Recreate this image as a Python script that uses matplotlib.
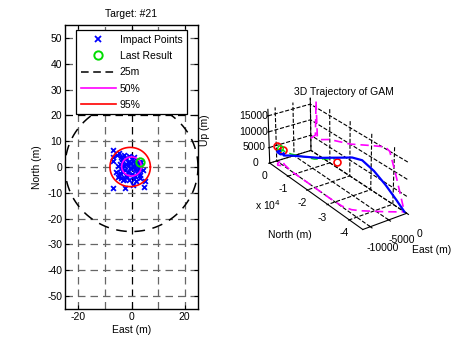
import numpy as np
import matplotlib
matplotlib.use("Agg")
import matplotlib.pyplot as plt
from matplotlib.lines import Line2D

plt.rcParams['font.family'] = ['Liberation Sans', 'DejaVu Sans']
plt.rcParams['font.size'] = 7.5
plt.rcParams['axes.unicode_minus'] = False

# ---------------- data: impact points (East, North) in metres ----------------
impact_east = [-6.8, -7.0, -7.0, -5.6, -4.6, -5.8, -5.0, -3.3, -7.0, -2.5, 0.6, 3.1, 4.9, 4.6,
               3.7, 1.8, -4.0, -3.5, -3.0, -2.0, -1.5, -1.0, 0.0, 0.5, 1.0, 1.5, 2.0, 2.5, 3.0,
               -4.5, -4.0, -3.0, -2.5, -1.5, -0.5, 0.5, 1.5, 2.5, -4.2, -3.2, -2.2, -1.2, 0.2,
               1.2, 2.2, 3.2, -3.8, -2.8, -1.8, -0.8, 0.8, 1.8, -3.5, -2.0, -0.2, 1.0, 2.8, -5.2,
               -4.8, 4.2]
impact_north = [6.6, 4.0, 2.3, 4.6, 5.3, -1.8, -3.7, -5.0, -8.2, -8.2, -6.9, -4.4, -5.6, -7.6,
                2.1, 1.4, 4.0, 3.0, 4.5, 3.5, 2.0, 4.2, 3.0, 2.2, 3.8, 1.0, 2.6, 0.4, 1.8,
                1.0, -0.5, 0.2, -1.0, 0.8, -0.3, 0.5, -0.8, -1.5, -2.5, -2.0, -3.0, -1.8, -2.6,
                -3.5, -2.2, -3.0, -4.2, -4.8, -4.0, -5.2, -4.6, -5.5, 1.8, 1.2, 1.6, 0.0, -0.5,
                0.5, -3.0, -1.0]
last_east, last_north = [3.1], [2.1]
r25, r50, r95 = 25.0, 3.7, 7.6
c50 = (0.0, 0.2)
c95 = (-0.5, 0.0)
x_ticks = [-20, 0, 20]
y_ticks = [-50, -40, -30, -20, -10, 0, 10, 20, 30, 40, 50]
grid_x = [-20, -10, 0, 10, 20]
grid_y = [-50, -40, -30, -20, -10, 0, 10, 20, 30, 40, 50]

# ---------------- data: 3D trajectory (East, North, Up) in metres ----------------
traj_north = [-1000, -1500, -2500, -3200, -2800, -2000, -3000, -8000, -15000, -22000, -28000,
              -33000, -36000, -38000, -40000, -42000, -43800, -45000]
traj_east = [-9500, -10500, -11000, -10500, -9500, -9000, -9500, -10000, -10000, -10000, -10000,
             -9800, -9000, -7500, -5500, -3500, -1500, 0]
traj_up = [3500, 3800, 4200, 3600, 3200, 3000, 2800, 5000, 7500, 10000, 12500,
           14500, 15500, 15000, 12000, 8000, 3500, 0]
ref_north = [0, -2500, -3000, -3500, -5000, -10000, -20000, -30000, -36000, -38000, -41000, -45000]
ref_up = [4000, 6000, 17000, 6000, 5500, 7500, 10000, 13500, 15500, 15000, 9000, 0]
guide_east = [-10000, -10000, -10000, -10000]
guide_north = [-1500, -8000, -20000, -30000]
guide_up = [4500, 5500, 8800, 13000]
wp_east = [-10500, -9500, -10000]
wp_north = [-1200, -2500, -31000]
wp_up = [5500, 4500, 12500]

fig = plt.figure(figsize=(4.62, 3.42), dpi=100)

# ---------------- left 2D axes ----------------
ax = fig.add_axes([65/462, 1-309/342, 133/462, 284/342])
ax.set_xlim(-25, 25)
ax.set_ylim(-55, 55)
for gx in grid_x:
    ax.plot([gx, gx], [-55, 55], color='k' if gx == 0 else '0.4', lw=0.9,
            dashes=(6, 4), zorder=1)
for gy in grid_y:
    ax.plot([-25, 25], [gy, gy], color='k' if gy == 20 else '0.4', lw=0.9,
            dashes=(6, 4), zorder=1)

t = np.linspace(0, 2*np.pi, 361)
ax.scatter(impact_east, impact_north, marker='x', s=12, color='#0000ff', lw=1.3, zorder=3)
ax.plot(last_east, last_north, 'o', mfc='none', mec='#00dd00', ms=6, mew=1.4, zorder=5)
ax.plot(r25*np.cos(t), r25*np.sin(t), color='k', lw=1.1, dashes=(7, 5), zorder=2)
ax.plot(c50[0]+r50*np.cos(t), c50[1]+r50*np.sin(t), color='#ff00ff', lw=1.2, zorder=4)
ax.plot(c95[0]+r95*np.cos(t), c95[1]+r95*np.sin(t), color='#ff0000', lw=1.2, zorder=4)

ax.set_xticks(x_ticks)
ax.set_yticks(y_ticks)
ax.tick_params(direction='in', top=True, right=True, length=3, width=0.8, labelsize=7.5, pad=2)
for s in ax.spines.values():
    s.set_linewidth(1.0)
ax.set_title('Target: #21', fontsize=7.5, pad=6)
ax.set_xlabel('East (m)', fontsize=7.5, labelpad=2)
ax.set_ylabel('North (m)', fontsize=7.5, labelpad=4)

handles = [Line2D([], [], ls='none', marker='x', color='#0000ff', ms=4, mew=1.3),
           Line2D([], [], ls='none', marker='o', mfc='none', mec='#00dd00', ms=6, mew=1.4),
           Line2D([], [], color='k', lw=1.1, dashes=(5, 3)),
           Line2D([], [], color='#ff00ff', lw=1.2),
           Line2D([], [], color='#ff0000', lw=1.2)]
leg = ax.legend(handles, ['Impact Points', 'Last Result', '25m', '50%', '95%'],
                loc='upper center', bbox_to_anchor=(0.5, 0.982), fontsize=7.5, fancybox=False,
                edgecolor='k', framealpha=1, handlelength=3.4, handletextpad=0.35,
                borderpad=0.45, labelspacing=0.6, borderaxespad=0)
leg.get_frame().set_linewidth(0.9)

# ---------------- right 3D axes ----------------
ax3 = fig.add_axes([214/462, 1-252/342, 237/462, 180/342], projection='3d')
ax3.plot(traj_east, traj_north, traj_up, color='#0000ff', lw=1.6, zorder=5)
ax3.plot(traj_east, traj_north, [0]*len(traj_up), color='#ff00ff', lw=1.2, dashes=(5, 3))
ax3.plot([0]*len(ref_north), ref_north, ref_up, color='#ff00ff', lw=1.2, dashes=(5, 3))
ax3.plot(guide_east, guide_north, guide_up, color='#00dd00', lw=1.0, dashes=(5, 3))
ax3.plot(wp_east, wp_north, wp_up, ls='none', marker='o', mfc='none', mec='#ff0000', ms=5, mew=1.2)
ax3.plot([-10000], [-2000], [5000], ls='none', marker='o', mfc='none', mec='#00dd00', ms=4, mew=1.0)
ax3.set_xlim(-12000, 0)
ax3.set_ylim(-46000, 0)
ax3.set_zlim(0, 17000)
ax3.set_xticks([-10000, -5000, 0])
ax3.set_yticks([-40000, -30000, -20000, -10000, 0])
ax3.set_yticklabels(['-4', '-3', '-2', '-1', '0'])
ax3.set_zticks([0, 5000, 10000, 15000])
ax3.view_init(elev=27, azim=-125)
ax3.set_box_aspect((0.38, 1.2, 0.45))
for axis in (ax3.xaxis, ax3.yaxis, ax3.zaxis):
    axis.set_pane_color((1, 1, 1, 0))
    axis._axinfo['grid']['linestyle'] = '--'
    axis._axinfo['grid']['color'] = (0, 0, 0, 1)
    axis._axinfo['grid']['linewidth'] = 0.8
    axis.line.set_color('k')
ax3.tick_params(labelsize=7.5, pad=0)
fig.text(344/462, 1-92/342, '3D Trajectory of GAM', fontsize=7.5, ha='center', va='center')
fig.text(255/462, 1-205/342, r'x 10$^4$', fontsize=7.5, va='center')
fig.text(290/462, 1-235/342, 'North (m)', fontsize=7.5, ha='center', va='center')
fig.text(432/462, 1-250/342, 'East (m)', fontsize=7.5, ha='center', va='center')
fig.text(205/462, 1-130/342, 'Up (m)', fontsize=7.5, ha='center', va='center', rotation=90)

fig.savefig('out.png', dpi=100)
